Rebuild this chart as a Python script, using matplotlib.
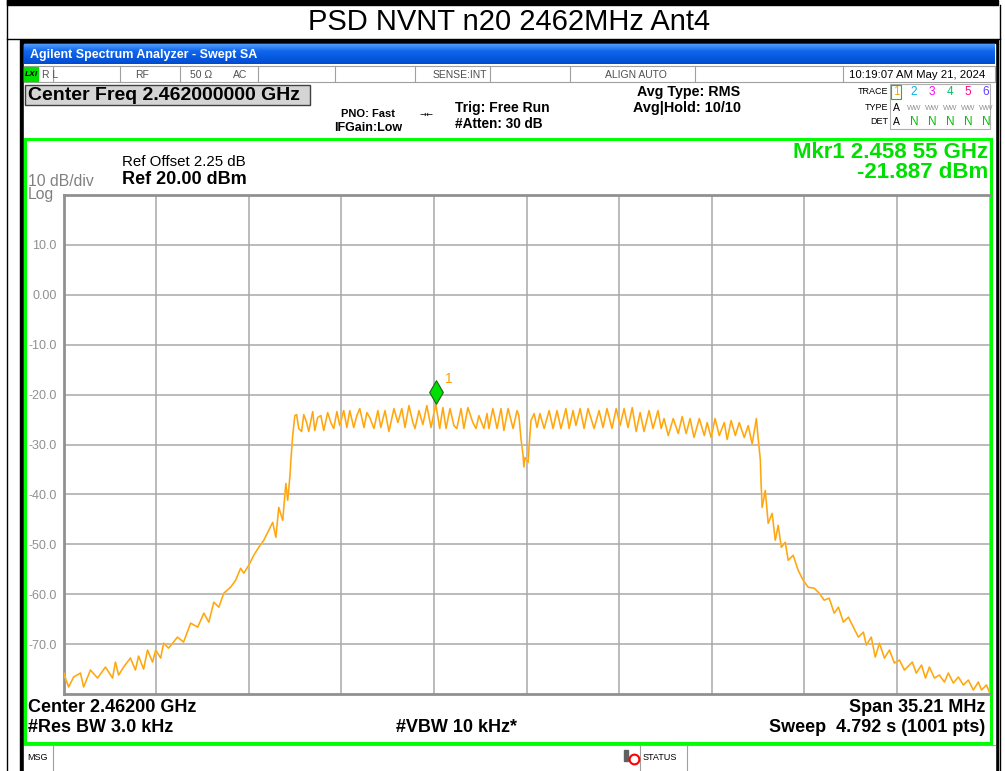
import numpy as np
import matplotlib
matplotlib.use("Agg")
import matplotlib.pyplot as plt
from matplotlib.patches import Rectangle
from matplotlib.path import Path
from matplotlib.transforms import offset_copy

plt.rcParams['font.family'] = ['Liberation Sans', 'DejaVu Sans']

W, H = 1005, 771

title = "PSD NVNT n20 2462MHz Ant4"
center_ghz = 2.462
span_mhz = 35.21
ref_dbm = 20.0
db_div = 10
ytick_vals = [10, 0, -10, -20, -30, -40, -50, -60, -70]
ytick_labels = ["10.0", "0.00", "-10.0", "-20.0", "-30.0", "-40.0", "-50.0", "-60.0", "-70.0"]
mkr_ghz = 2.45855
mkr_dbm = -21.887

# trace: offset from center (MHz) and level (dBm)
trace_off_mhz = [
    -17.60, -17.41, -17.22, -16.96, -16.84, -16.58, -16.31, -16.01, -15.74, -15.63,
    -15.51, -15.32, -15.06, -14.87, -14.75, -14.56, -14.41, -14.22, -14.10, -13.91,
    -13.80, -13.61, -13.27, -13.04, -12.77, -12.50, -12.27, -12.08, -11.89, -11.70,
    -11.51, -11.25, -11.06, -10.87, -10.75, -10.56, -10.37, -10.18, -9.99, -9.80,
    -9.65, -9.53, -9.42, -9.27, -9.15, -9.08, -8.99, -8.96, -8.89, -8.81,
    -8.74, -8.66, -8.55, -8.47, -8.36, -8.28, -8.13, -8.05, -7.94, -7.82,
    -7.71, -7.56, -7.44, -7.33, -7.21, -7.10, -6.95, -6.83, -6.72, -6.57,
    -6.45, -6.34, -6.18, -6.07, -5.96, -5.80, -5.65, -5.54, -5.38, -5.23,
    -5.04, -4.89, -4.74, -4.62, -4.47, -4.32, -4.24, -4.09, -3.94, -3.79,
    -3.63, -3.45, -3.30, -3.18, -3.06, -2.91, -2.76, -2.65, -2.49, -2.38,
    -2.23, -2.04, -1.92, -1.81, -1.62, -1.50, -1.43, -1.28, -1.12, -0.97,
    -0.86, -0.70, -0.51, -0.36, -0.29, -0.21, -0.13, -0.10, -0.06, 0.06,
    0.10, 0.17, 0.29, 0.40, 0.51, 0.67, 0.86, 1.01, 1.16, 1.31,
    1.50, 1.62, 1.77, 1.88, 2.04, 2.19, 2.34, 2.57, 2.76, 2.91,
    3.06, 3.25, 3.41, 3.56, 3.71, 3.86, 4.02, 4.17, 4.32, 4.47,
    4.66, 4.81, 5.00, 5.12, 5.23, 5.39, 5.58, 5.77, 5.92, 6.07,
    6.22, 6.37, 6.57, 6.76, 6.87, 7.02, 7.17, 7.33, 7.52, 7.63,
    7.78, 7.94, 8.09, 8.28, 8.43, 8.58, 8.74, 8.81, 8.89, 8.92,
    8.96, 9.08, 9.19, 9.34, 9.46, 9.57, 9.69, 9.84, 9.95, 10.14,
    10.33, 10.52, 10.71, 10.94, 11.13, 11.32, 11.51, 11.70, 11.86, 12.05,
    12.24, 12.43, 12.62, 12.81, 12.92, 13.11, 13.26, 13.42, 13.61, 13.80,
    13.99, 14.18, 14.37, 14.67, 14.82, 15.02, 15.17, 15.32, 15.51, 15.70,
    15.89, 16.04, 16.23, 16.42, 16.61, 16.80, 16.99, 17.18, 17.30, 17.49,
    17.60,
]
trace_dbm = [
    -75.8, -78.6, -76.6, -75.8, -78.6, -75.2, -76.8, -74.6, -76.8, -73.6,
    -76.2, -74.6, -72.8, -75.2, -72.4, -75.0, -71.2, -73.6, -71.2, -72.8,
    -69.8, -70.8, -68.6, -69.6, -65.8, -66.6, -63.8, -65.6, -61.6, -62.6,
    -59.8, -58.6, -57.2, -54.8, -55.8, -54.2, -52.2, -50.6, -49.2, -47.2,
    -45.6, -48.6, -42.6, -45.2, -37.8, -41.2, -36.0, -33.2, -28.2, -24.2,
    -24.0, -26.8, -27.4, -24.0, -25.6, -27.4, -23.4, -27.2, -24.6, -24.2,
    -27.2, -23.6, -25.6, -26.8, -23.4, -26.2, -23.2, -26.6, -23.2, -26.6,
    -24.2, -22.8, -26.6, -23.6, -24.6, -26.8, -23.2, -26.6, -23.2, -27.4,
    -22.8, -25.6, -22.8, -26.6, -22.2, -25.6, -26.8, -23.2, -26.0, -22.2,
    -26.6, -21.887, -26.8, -22.6, -26.8, -22.8, -26.2, -26.8, -22.8, -26.8,
    -22.6, -25.6, -26.8, -24.2, -26.8, -23.8, -26.8, -22.8, -26.8, -22.8,
    -27.2, -22.8, -26.8, -23.2, -24.2, -28.8, -32.2, -34.5, -32.6, -33.6,
    -30.2, -25.2, -23.8, -26.6, -23.8, -26.8, -23.2, -26.8, -23.2, -26.8,
    -22.8, -26.8, -23.2, -26.2, -22.8, -26.8, -22.8, -26.8, -23.2, -26.6,
    -22.8, -26.8, -22.8, -26.2, -22.8, -26.6, -22.6, -27.4, -23.6, -27.4,
    -23.2, -26.8, -23.2, -26.8, -24.8, -28.2, -24.8, -27.8, -24.4, -27.8,
    -24.8, -28.6, -24.8, -28.2, -25.6, -28.6, -24.8, -28.2, -25.6, -29.0,
    -25.2, -28.2, -25.6, -28.6, -26.2, -29.9, -24.8, -28.8, -33.0, -37.8,
    -42.6, -39.2, -45.8, -43.8, -49.2, -46.2, -50.6, -49.6, -53.2, -52.2,
    -55.2, -57.2, -58.6, -58.8, -59.8, -61.2, -60.8, -63.8, -62.6, -65.6,
    -64.6, -66.6, -68.6, -67.6, -70.2, -68.6, -72.6, -69.8, -72.8, -71.2,
    -73.8, -73.2, -75.2, -73.6, -75.8, -74.2, -76.8, -74.6, -76.8, -76.2,
    -77.6, -75.8, -77.8, -76.6, -78.2, -77.2, -79.2, -77.6, -79.2, -78.2,
    -79.6,
]

trace_nums = ["1", "2", "3", "4", "5", "6"]
trace_cols = ["#ffa500", "#00b0f0", "#ff00ff", "#00c060", "#ff0080", "#6040ff"]

fig = plt.figure(figsize=(W / 100, H / 100), dpi=100)
bg = fig.add_axes([0, 0, 1, 1])
bg.set_xlim(0, W)
bg.set_ylim(H, 0)
bg.axis('off')

# page frame + title cell
bg.add_patch(Rectangle((7, 0), 991, 5, color='black'))
bg.plot([7, 7], [0, H], color='black', lw=1)
bg.plot([1000, 1000], [5, H], color='black', lw=1)
bg.plot([7, 1000], [39, 39], color='black', lw=1)
bg.text(509, 22, title, ha='center', va='center', fontsize=21)

# screenshot frame
bg.add_patch(Rectangle((20, 40), 978, H - 40, color='black'))
bg.add_patch(Rectangle((24, 44), 971, H - 44, color='white'))
grad = np.linspace(0, 1, 20)
blues = np.array([[0.30, 0.60, 0.98], [0.06, 0.40, 0.93], [0.0, 0.30, 0.82]])
rows = np.array([np.interp(grad, [0, 0.35, 1], blues[:, k]) for k in range(3)]).T
bg.imshow(rows[:, None, :].repeat(2, axis=1), extent=[24, 995, 64, 44], aspect='auto',
          zorder=2)
bg.text(30, 55, "Agilent Spectrum Analyzer - Swept SA", color='white', fontsize=9,
        weight='bold', va='center', zorder=3)

# status row
bg.add_patch(Rectangle((24, 66), 971, 16, facecolor='white', edgecolor='#a0a0a0', lw=0.8))
for sx in [53, 120, 180, 258, 335, 415, 490, 570, 695, 843]:
    bg.plot([sx, sx], [66, 82], color='#a0a0a0', lw=0.8)
bg.add_patch(Rectangle((24, 67), 14, 14, color='#00e000'))
bg.text(31, 74, "LXI", fontsize=6, style='italic', weight='bold', ha='center', va='center')
for sx, s in [(42, "R L"), (135, "RF"), (190, "50 \u03a9"), (233, "AC"),
              (433, "SENSE:INT"), (605, "ALIGN AUTO")]:
    bg.text(sx, 74.5, s, fontsize=7.5, color='#505050', va='center')
bg.text(985, 74.5, "10:19:07 AM May 21, 2024", fontsize=8.2, ha='right', va='center')

# info area
bg.add_patch(Rectangle((25, 85), 285, 20, facecolor='#d4d4d4', edgecolor='#404040', lw=1))
bg.text(28, 95.5, "Center Freq 2.462000000 GHz", fontsize=14, weight='bold', va='center')
bg.text(395, 114, "PNO: Fast", fontsize=8, weight='bold', ha='right', va='center')
bg.text(402, 128, "IFGain:Low", fontsize=9, weight='bold', ha='right', va='center')
bg.text(427, 114, "\u2192\u2190", fontsize=6, ha='center', va='center', family=['DejaVu Sans'])
bg.text(455, 108, "Trig: Free Run", fontsize=10, weight='bold', va='center')
bg.text(455, 124, "#Atten: 30 dB", fontsize=9.8, weight='bold', va='center')
bg.text(637, 92, "Avg Type: RMS", fontsize=10.3, weight='bold', va='center')
bg.text(633, 108, "Avg|Hold: 10/10", fontsize=10.4, weight='bold', va='center')

bg.add_patch(Rectangle((890, 84), 100, 45, facecolor='white', edgecolor='#b0b0b0', lw=0.8))
for ty, lab in [(92, "TRACE"), (108, "TYPE"), (122, "DET")]:
    bg.text(888, ty, lab, fontsize=6.5, ha='right', va='center')
for i, (n, c) in enumerate(zip(trace_nums, trace_cols)):
    tx = 896 + 18 * i
    bg.text(tx, 92, n, color=c, fontsize=8.5, ha='center', va='center')
    if i == 0:
        bg.add_patch(Rectangle((891, 85), 10, 14, fill=False, edgecolor='#00d000', lw=0.8))
        bg.text(tx, 108, "A", fontsize=7.5, ha='center', va='center')
        bg.text(tx, 122, "A", fontsize=7.5, ha='center', va='center')
    else:
        bg.text(tx, 108, "WW", fontsize=5.5, color='#909090', ha='center', va='center')
        bg.text(tx, 122, "N", fontsize=8.5, color='#00c000', ha='center', va='center')

# screen (green frame)
bg.add_patch(Rectangle((25, 139), 966, 604, facecolor='white', edgecolor='#00ff00', lw=2.2))
bg.text(122, 162, "Ref Offset 2.25 dB", fontsize=10.8, va='center')
bg.text(122, 180, "Ref 20.00 dBm", fontsize=13, weight='bold', va='center')
bg.text(28, 181, "10 dB/div", fontsize=11.3, color='#808080', va='center')
bg.text(28, 194, "Log", fontsize=11.3, color='#808080', va='center')
mkr_digits = f"{mkr_ghz:.5f}"
bg.text(988, 153, f"Mkr1 {mkr_digits[:5]} {mkr_digits[5:]} GHz", fontsize=16,
        weight='bold', color='#00e000', ha='right', va='center')
bg.text(988, 173, f"{mkr_dbm:.3f} dBm", fontsize=16, weight='bold', color='#00e000',
        ha='right', va='center')

bg.text(28, 707, f"Center {center_ghz:.5f} GHz", fontsize=13, weight='bold', va='center')
bg.text(985, 707, f"Span {span_mhz:.2f} MHz", fontsize=13, weight='bold', ha='right', va='center')
bg.text(28, 728, "#Res BW 3.0 kHz", fontsize=13, weight='bold', va='center')
bg.text(457, 728, "#VBW 10 kHz*", fontsize=13, weight='bold', ha='center', va='center')
bg.text(985, 728, "Sweep  4.792 s (1001 pts)", fontsize=13, weight='bold', ha='right', va='center')

# message row
bg.plot([24, 995], [745, 745], color='#a0a0a0', lw=0.8)
for sx in [53, 640, 687]:
    bg.plot([sx, sx], [745, H], color='#a0a0a0', lw=0.8)
bg.text(27, 757, "MSG", fontsize=6.5, va='center')
bg.text(643, 757, "STATUS", fontsize=6.5, va='center')
bg.add_patch(Rectangle((624, 750), 4, 11, color='#606060'))
bg.plot([634], [759], marker='o', ms=7, mfc='white', mec='red', mew=1.5)

# spectrum display
ax = fig.add_axes([63.5 / W, (H - 694) / H, 926 / W, 499 / H])
half = span_mhz / 2
ax.set_xlim(-half, half)
ax.set_ylim(ref_dbm - 10 * db_div, ref_dbm)
ax.set_xticks(np.linspace(-half, half, 11))
ax.set_xticklabels([])
ax.set_yticks(ytick_vals)
ax.set_yticklabels(ytick_labels)
ax.tick_params(length=0, labelsize=9, labelcolor='#909090', pad=5)
ax.grid(True, color='#a8a8a8', lw=1.1)
for side in ['left', 'bottom', 'top']:
    ax.spines[side].set_color('#909090')
    ax.spines[side].set_linewidth(2)
ax.spines['right'].set_visible(False)

ax.plot(trace_off_mhz, trace_dbm, color='#ffc862', lw=1.3, zorder=3)
ax.plot(trace_off_mhz, trace_dbm, color='#ffa000', lw=0.7, zorder=3)

mkr_off = (mkr_ghz - center_ghz) * 1000
diamond = Path([(0, -1), (0.58, 0), (0, 1), (-0.58, 0), (0, -1)])
ax.plot([mkr_off], [mkr_dbm], marker=diamond, ms=17, mfc='#00e000', mec='#206020', mew=0.8,
        transform=offset_copy(ax.transData, fig=fig, y=12, units='dots'), zorder=5, clip_on=False)
ax.annotate("1", xy=(mkr_off, mkr_dbm), xytext=(6.5, 18), textcoords='offset points',
            color='#ffa000', fontsize=10, va='center')

fig.savefig("out.png", dpi=100)
